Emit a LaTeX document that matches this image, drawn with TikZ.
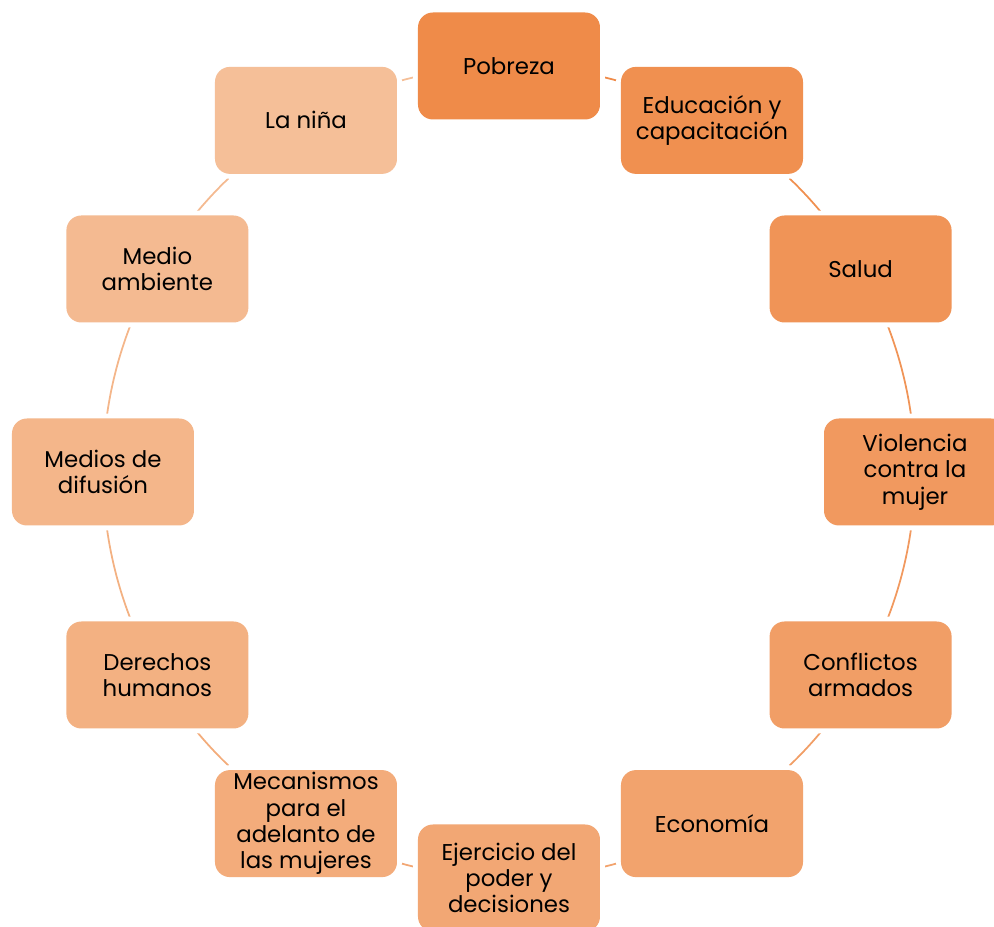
\documentclass[tikz,border=0pt]{standalone}
\usepackage{fontspec}
\setmainfont{Poppins}
\usetikzlibrary{backgrounds}
\definecolor{c0}{RGB}{239,139,73}
\definecolor{c1}{RGB}{240,144,80}
\definecolor{c2}{RGB}{240,148,87}
\definecolor{c3}{RGB}{241,153,95}
\definecolor{c4}{RGB}{241,158,102}
\definecolor{c5}{RGB}{242,163,109}
\definecolor{c6}{RGB}{242,167,116}
\definecolor{c7}{RGB}{243,172,123}
\definecolor{c8}{RGB}{243,177,130}
\definecolor{c9}{RGB}{244,182,138}
\definecolor{c10}{RGB}{244,186,145}
\definecolor{c11}{RGB}{245,191,152}
\tikzset{
  area/.style={fill=#1, rounded corners=8.5pt, minimum width=3.64cm, minimum height=2.14cm,
    inner sep=0pt, align=center, font=\fontsize{13}{15}\selectfont,
    preaction={draw=white, line width=5.6pt}},
  link/.style={draw=#1, line width=1pt, bend left=15, looseness=0.87}
}
\begin{document}
\begin{tikzpicture}
  \useasboundingbox (-10.18,-9.10) rectangle (9.70,9.44);
  \node[area=c0] (pobreza) at (90:8.12) {Pobreza};
  \node[area=c1] (educacion) at (60:8.12) {Educación y\\capacitación};
  \node[area=c2] (salud) at (30:8.12) {Salud};
  \node[area=c3] (violencia) at (0:8.12) {Violencia\\contra la\\mujer};
  \node[area=c4] (conflictos) at (-30:8.12) {Conflictos\\armados};
  \node[area=c5] (economia) at (-60:8.12) {Economía};
  \node[area=c6] (poder) at (-90:8.12) {Ejercicio del\\poder y\\decisiones};
  \node[area=c7] (mecanismos) at (-120:8.12) {Mecanismos\\para el\\adelanto de\\las mujeres};
  \node[area=c8] (derechos) at (-150:8.12) {Derechos\\humanos};
  \node[area=c9] (medios) at (180:8.12) {Medios de\\difusión};
  \node[area=c10] (ambiente) at (150:8.12) {Medio\\ambiente};
  \node[area=c11] (nina) at (120:8.12) {La niña};
  \begin{scope}[on background layer]
    \draw[link=c0] (pobreza.center) to (educacion.center);
    \draw[link=c1] (educacion.center) to (salud.center);
    \draw[link=c2] (salud.center) to (violencia.center);
    \draw[link=c3] (violencia.center) to (conflictos.center);
    \draw[link=c4] (conflictos.center) to (economia.center);
    \draw[link=c5] (economia.center) to (poder.center);
    \draw[link=c6] (poder.center) to (mecanismos.center);
    \draw[link=c7] (mecanismos.center) to (derechos.center);
    \draw[link=c8] (derechos.center) to (medios.center);
    \draw[link=c9] (medios.center) to (ambiente.center);
    \draw[link=c10] (ambiente.center) to (nina.center);
    \draw[link=c11] (nina.center) to (pobreza.center);
  \end{scope}
\end{tikzpicture}
\end{document}
